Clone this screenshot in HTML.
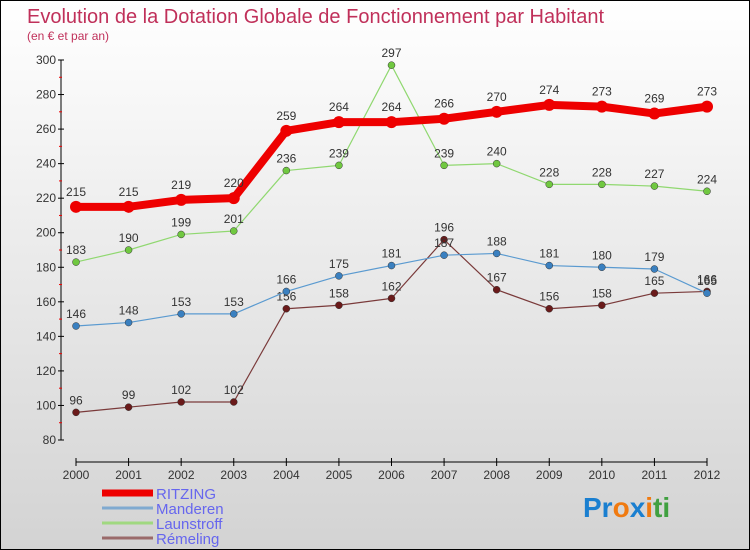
<!DOCTYPE html>
<html><head><meta charset="utf-8"><style>
html,body{margin:0;padding:0}
body{width:750px;height:550px;overflow:hidden;font-family:"Liberation Sans",sans-serif}
#wrap{position:absolute;left:0;top:0;width:748px;height:548px;border:1px solid #000;background:linear-gradient(#fff,#d3d3d3)}
</style></head><body>
<div id="wrap">
<svg id="chart" width="748" height="548" style="position:absolute;left:0;top:0">
<text x="26" y="22" font-size="20" fill="#c0305a">Evolution de la Dotation Globale de Fonctionnement par Habitant</text>
<text x="26" y="39" font-size="12" fill="#c0305a">(en € et par an)</text>
<g id="axes"></g>
<g id="series"></g>
<g id="legend"></g>
<text x="582" y="516" font-size="28" font-weight="bold"><tspan fill="#1a7fd0">Pr</tspan><tspan fill="#f07a10">o</tspan><tspan fill="#1a7fd0">x</tspan><tspan fill="#f07a10">i</tspan><tspan fill="#40a040">ti</tspan></text>
</svg>
</div>
<script>
const years=["2000","2001","2002","2003","2004","2005","2006","2007","2008","2009","2010","2011","2012"];
const yTicks=[80,100,120,140,160,180,200,220,240,260,280,300];
const ritzing=[215,215,219,220,259,264,264,266,270,274,273,269,273];
const manderen=[146,148,153,153,166,175,181,187,188,181,180,179,165];
const launstroff=[183,190,199,201,236,239,297,239,240,228,228,227,224];
const remeling=[96,99,102,102,156,158,162,196,167,156,158,165,166];
const seriesNames=["RITZING","Manderen","Launstroff","Rémeling"];
const NS="http://www.w3.org/2000/svg";
const X0=75,X1=706,Y0=439,Ymin=80,Ymax=300,YT=59;
const xs=i=>X0+(X1-X0)*i/(years.length-1);
const ys=v=>Y0-(v-Ymin)*(Y0-YT)/(Ymax-Ymin);
function mk(tag,attrs,parent){const e=document.createElementNS(NS,tag);for(const k in attrs)e.setAttribute(k,attrs[k]);parent.appendChild(e);return e;}
const axes=document.getElementById('axes');
let yl=mk('line',{x1:60,y1:YT,x2:60,y2:Y0,stroke:'#000'},axes);


yTicks.forEach(v=>{
 mk('line',{x1:57,y1:ys(v),x2:63,y2:ys(v),stroke:'#000'},axes);
 if(v<300)mk('line',{x1:58,y1:ys(v+10),x2:61,y2:ys(v+10),stroke:'#e00'},axes);
 const t=mk('text',{x:55,y:ys(v)+4,'font-size':12,'text-anchor':'end',fill:'#333'},axes);
 t.textContent=v;
 
 
});
let xl=mk('line',{x1:X0,y1:461,x2:X1,y2:461,stroke:'#000'},axes);


years.forEach((y,i)=>{
 mk('line',{x1:xs(i),y1:457,x2:xs(i),y2:465,stroke:'#000'},axes);
 const t=mk('text',{x:xs(i),y:478,'font-size':12,'text-anchor':'middle',fill:'#333'},axes);
 t.textContent=y;
 
 
});
const sg=document.getElementById('series');
function draw(data,name,color,dot,w,r,labelDy){
 const g=mk('g',{},sg);
 
 
 const p=mk('polyline',{points:data.map((v,i)=>xs(i)+','+ys(v)).join(' '),fill:'none',stroke:color,'stroke-width':w,'stroke-linejoin':'round'},g);
 
 
 data.forEach((v,i)=>{
  const c=mk('circle',{cx:xs(i),cy:ys(v),r:r,fill:dot,stroke:'#333','stroke-width':w>3?0:0.5},g);
  
  
  const t=mk('text',{x:xs(i),y:ys(v)+labelDy,'font-size':12,'text-anchor':'middle',fill:'#333'},g);
  t.textContent=v;
  
  
 });
}
draw(remeling,'remeling','#7a3a3a','#6a1a1a',1.2,3.5,-8);
draw(manderen,'manderen','#5a9ad0','#3a80c0',1.2,3.5,-8);
draw(launstroff,'launstroff','#90d870','#70c840',1.2,3.5,-8);
draw(ritzing,'ritzing','#ee0000','#ee0000',8,6,-11);
const lg=document.getElementById('legend');
const lc=[['#ee0000',7],['#80aad0',3],['#a0d880',3],['#9a6a6a',3]];
seriesNames.forEach((n,i)=>{
 const y=492+i*15;
 const l=mk('line',{x1:101,y1:y,x2:152,y2:y,stroke:lc[i][0],'stroke-width':lc[i][1]},lg);
 
 
 const t=mk('text',{x:155,y:y+6,'font-size':15,fill:'#6666ee'},lg);
 t.textContent=n;
 
 
});
</script>
</body></html>
